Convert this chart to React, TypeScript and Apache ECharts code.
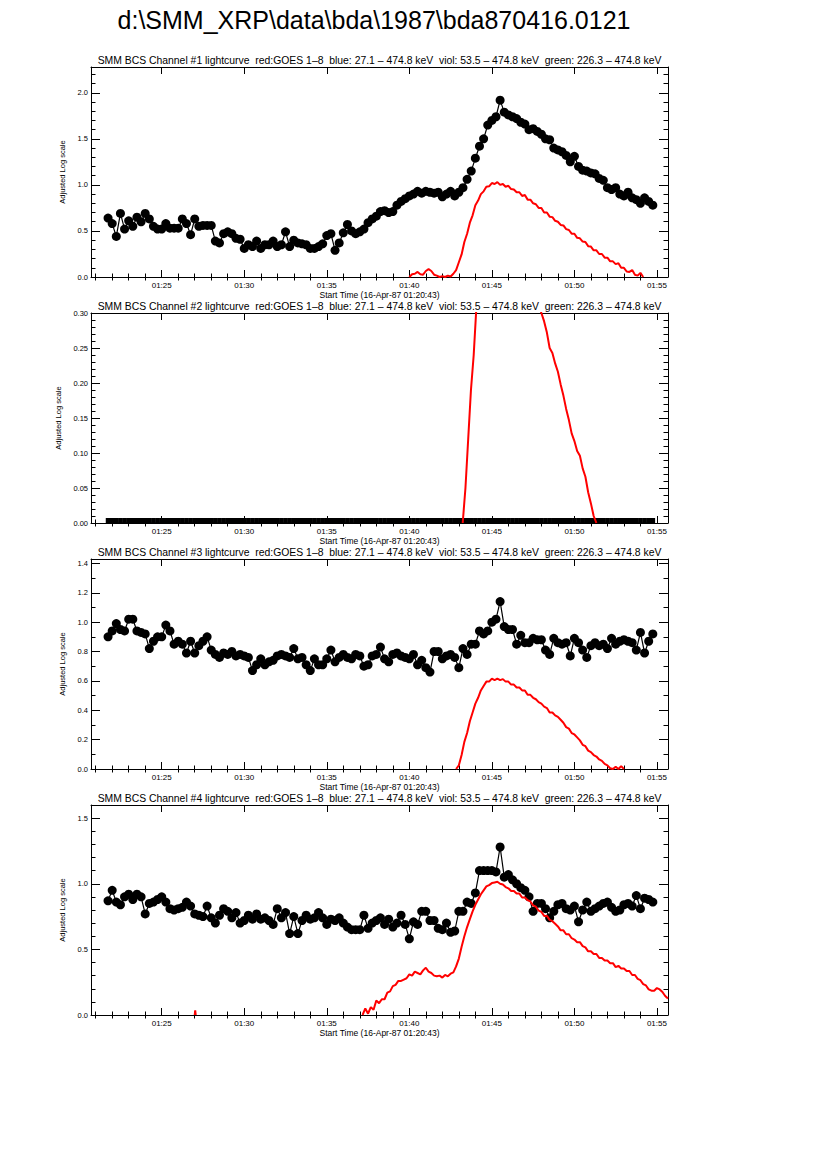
import React, { useEffect, useRef } from "react";
import * as echarts from "echarts";

const FONT = '"Liberation Sans", Arial, Helvetica, sans-serif';

// ---------- texts ----------
const MAIN_TITLE = "d:\\SMM_XRP\\data\\bda\\1987\\bda870416.0121";
const CHANNELS = ["1", "2", "3", "4"];
const TITLE_TAIL =
  "lightcurve  red:GOES 1–8  blue: 27.1 – 474.8 keV  viol: 53.5 – 474.8 keV  green: 226.3 – 474.8 keV";
const X_NAME = "Start Time (16-Apr-87 01:20:43)";
const Y_NAME = "Adjusted Log scale";

// ---------- x axis (minutes after 01:00) ----------
const X_MIN = 20 + 43 / 60;
const X_MAX = 55.67;
const X_MAJOR = [25, 30, 35, 40, 45, 50, 55];
const X_MINOR = [21, 22, 23, 24, 26, 27, 28, 29, 31, 32, 33, 34, 36, 37, 38, 39, 41, 42, 43, 44, 46, 47, 48, 49, 51, 52, 53, 54];

// ---------- y axes ----------
const Y_MAX = [2.28, 0.3, 1.43, 1.6];
const Y_MAJOR = [
  [0, 0.5, 1, 1.5, 2],
  [0, 0.05, 0.1, 0.15, 0.2, 0.25, 0.3],
  [0, 0.2, 0.4, 0.6, 0.8, 1, 1.2, 1.4],
  [0, 0.5, 1, 1.5],
];
const Y_MINOR = [
  [0.1, 0.2, 0.3, 0.4, 0.6, 0.7, 0.8, 0.9, 1.1, 1.2, 1.3, 1.4, 1.6, 1.7, 1.8, 1.9, 2.1, 2.2],
  [0.01, 0.02, 0.03, 0.04, 0.06, 0.07, 0.08, 0.09, 0.11, 0.12, 0.13, 0.14, 0.16, 0.17, 0.18, 0.19, 0.21, 0.22, 0.23, 0.24, 0.26, 0.27, 0.28, 0.29],
  [0.1, 0.3, 0.5, 0.7, 0.9, 1.1, 1.3],
  [0.1, 0.2, 0.3, 0.4, 0.6, 0.7, 0.8, 0.9, 1.1, 1.2, 1.3, 1.4],
];
const Y_DECIMALS = [1, 2, 1, 1];

// ---------- BCS (black) series: 15 s cadence from 01:21:45 ----------
const BLACK_START = 21.75;
const BLACK_STEP = 0.25;

const ch1Black = [
  0.64, 0.58, 0.44, 0.69, 0.52, 0.61, 0.55, 0.65, 0.6, 0.69,
  0.63, 0.55, 0.52, 0.52, 0.58, 0.53, 0.53, 0.53, 0.63, 0.58,
  0.46, 0.63, 0.55, 0.56, 0.56, 0.56, 0.39, 0.37, 0.47, 0.49,
  0.47, 0.42, 0.41, 0.31, 0.35, 0.33, 0.39, 0.31, 0.35, 0.35,
  0.39, 0.33, 0.35, 0.49, 0.33, 0.4, 0.37, 0.36, 0.35, 0.31,
  0.31, 0.33, 0.36, 0.45, 0.47, 0.29, 0.37, 0.48, 0.57,
  0.5, 0.47, 0.49, 0.52, 0.59, 0.63, 0.66, 0.71, 0.72, 0.7,
  0.71, 0.78, 0.82, 0.85, 0.88, 0.9, 0.93, 0.91, 0.93, 0.92,
  0.91, 0.92, 0.87, 0.9, 0.93, 0.88, 0.92, 0.97, 1.06, 1.15,
  1.29, 1.42, 1.5, 1.65, 1.7, 1.74, 1.92, 1.79, 1.76, 1.74,
  1.72, 1.68, 1.66, 1.6, 1.61, 1.58, 1.55, 1.5, 1.49, 1.4,
  1.38, 1.36, 1.32, 1.25, 1.31, 1.2, 1.16, 1.15, 1.13, 1.12,
  1.07, 1.05, 0.97, 0.95, 0.97, 0.9, 0.88, 0.92, 0.86, 0.84,
  0.8, 0.86, 0.82, 0.78,
];

const ch2Black = [
  0, 0, 0, 0, 0, 0, 0, 0, 0, 0, 0, 0, 0, 0, 0, 0, 0, 0, 0, 0,
  0, 0, 0, 0, 0, 0, 0, 0, 0, 0, 0, 0, 0, 0, 0, 0, 0, 0, 0, 0,
  0, 0, 0, 0, 0, 0, 0, 0, 0, 0, 0, 0, 0, 0, 0, 0, 0, 0, 0, 0,
  0, 0, 0, 0, 0, 0, 0, 0, 0, 0, 0, 0, 0, 0, 0, 0, 0, 0, 0, 0,
  0, 0, 0, 0, 0, 0, 0, 0, 0, 0, 0, 0, 0, 0, 0, 0, 0, 0, 0, 0,
  0, 0, 0, 0, 0, 0, 0, 0, 0, 0, 0, 0, 0, 0, 0, 0, 0, 0, 0, 0,
  0, 0, 0, 0, 0, 0, 0, 0, 0, 0, 0, 0, 0,
];

const ch3Black = [
  0.9, 0.94, 0.99, 0.95, 0.94, 1.02, 1.02, 0.94, 0.93, 0.92,
  0.82, 0.87, 0.9, 0.9, 0.98, 0.94, 0.85, 0.87, 0.85, 0.79,
  0.87, 0.79, 0.84, 0.87, 0.9, 0.81, 0.78, 0.76, 0.79, 0.78,
  0.8, 0.77, 0.78, 0.77, 0.76, 0.67, 0.71, 0.75, 0.71, 0.73,
  0.74, 0.77, 0.78, 0.77, 0.76, 0.82, 0.75, 0.76, 0.71, 0.67,
  0.75, 0.71, 0.71, 0.75, 0.81, 0.73, 0.76, 0.78, 0.76, 0.75,
  0.78, 0.77, 0.7, 0.71, 0.77, 0.78, 0.83, 0.75, 0.73, 0.78,
  0.79, 0.77, 0.76, 0.75, 0.78, 0.71, 0.74, 0.69, 0.66, 0.8,
  0.8, 0.75, 0.77, 0.78, 0.76, 0.69, 0.82, 0.78, 0.85, 0.85,
  0.94, 0.92, 0.94, 1.0, 1.02, 1.14, 0.97, 0.95, 0.95, 0.85,
  0.91, 0.86, 0.86, 0.89, 0.88, 0.88, 0.81, 0.78, 0.89, 0.86,
  0.85, 0.86, 0.77, 0.89, 0.86, 0.81, 0.76, 0.84, 0.86, 0.84,
  0.85, 0.82, 0.89, 0.85, 0.87, 0.88, 0.87, 0.86, 0.81, 0.93,
  0.79, 0.87, 0.92,
];

const ch4Black = [
  0.87, 0.95, 0.86, 0.84, 0.9, 0.92, 0.88, 0.92, 0.9, 0.77,
  0.85, 0.86, 0.88, 0.9, 0.86, 0.81, 0.8, 0.81, 0.82, 0.86,
  0.83, 0.77, 0.76, 0.75, 0.83, 0.74, 0.7, 0.76, 0.81, 0.79,
  0.74, 0.78, 0.7, 0.72, 0.76, 0.73, 0.77, 0.73, 0.74, 0.72,
  0.69, 0.81, 0.74, 0.78, 0.62, 0.75, 0.62, 0.72, 0.76, 0.73,
  0.74, 0.78, 0.74, 0.69, 0.73, 0.72, 0.74, 0.7, 0.67, 0.65,
  0.65, 0.65, 0.76, 0.66, 0.7, 0.72, 0.74, 0.69, 0.73, 0.67,
  0.7, 0.76, 0.69, 0.58, 0.71, 0.69, 0.79, 0.79, 0.72, 0.72,
  0.66, 0.65, 0.7, 0.63, 0.64, 0.79, 0.79, 0.86, 0.85, 0.93,
  1.1, 1.1, 1.1, 1.1, 1.09, 1.28, 1.05, 1.07, 1.03, 1.0,
  0.97, 0.95, 0.9, 0.79, 0.85, 0.85, 0.81, 0.74, 0.79, 0.84,
  0.85, 0.81, 0.8, 0.83, 0.71, 0.8, 0.86, 0.79, 0.81, 0.83,
  0.85, 0.86, 0.82, 0.79, 0.8, 0.84, 0.85, 0.83, 0.91, 0.81,
  0.89, 0.88, 0.86,
];

// ---------- GOES (red) series: 10 s cadence ----------
const RED_STEP = 1 / 6;

const ch1RedStart = 40.0;
const ch1Red = [
  0.0, 0.03, 0.035, 0.055, 0.03, 0.025, 0.065, 0.085, 0.065, 0.025,
  0.015, 0.0, 0.01, 0.0, 0.015, 0.005, 0.035, 0.075, 0.16, 0.245,
  0.38, 0.47, 0.59, 0.67, 0.78, 0.83, 0.9, 0.93, 0.98, 0.985,
  1.02, 1.01, 1.03, 1.0, 1.01, 0.98, 0.99, 0.955, 0.95, 0.92,
  0.92, 0.88, 0.89, 0.84, 0.84, 0.8, 0.79, 0.75, 0.75, 0.7,
  0.7, 0.655, 0.65, 0.61, 0.6, 0.565, 0.56, 0.52, 0.51, 0.47,
  0.47, 0.425, 0.42, 0.385, 0.38, 0.335, 0.33, 0.29, 0.29, 0.25,
  0.25, 0.21, 0.21, 0.17, 0.17, 0.14, 0.15, 0.1, 0.1, 0.06,
  0.055, 0.075, 0.025, 0.015, 0.045, 0.0,
];

const ch2RedRiseStart = 43 + 14 / 60;
const ch2RedRise = [0.0, 0.05, 0.12, 0.19, 0.24, 0.31];
const ch2RedFallStart = 47 + 50 / 60;
const ch2RedFall = [
  0.31, 0.3, 0.288, 0.272, 0.25, 0.243, 0.228, 0.216, 0.198, 0.182,
  0.163, 0.147, 0.128, 0.117, 0.103, 0.096, 0.078, 0.066, 0.044, 0.028,
  0.01, 0.0,
];

const ch3RedStart = 42 + 50 / 60;
const ch3Red = [
  0.0, 0.025, 0.095, 0.185, 0.245, 0.325, 0.385, 0.445, 0.485, 0.535,
  0.565, 0.595, 0.595, 0.615, 0.605, 0.615, 0.605, 0.612, 0.595, 0.595,
  0.575, 0.575, 0.555, 0.555, 0.535, 0.535, 0.505, 0.505, 0.485, 0.475,
  0.455, 0.445, 0.425, 0.415, 0.385, 0.385, 0.365, 0.355, 0.335, 0.315,
  0.285, 0.275, 0.245, 0.235, 0.215, 0.195, 0.165, 0.155, 0.125, 0.115,
  0.095, 0.085, 0.065, 0.055, 0.035, 0.025, 0.005, 0.0, 0.015, 0.0,
  0.02, 0.0,
];

const ch4BlipTimes = [27.0, 27.03, 27.06];
const ch4Blip = [0.0, 0.035, 0.0];
const ch4RedStart = 37 + 10 / 60;
const ch4Red = [
  0.0, 0.05, 0.01, 0.06, 0.04, 0.11, 0.09, 0.12, 0.12, 0.17,
  0.18, 0.22, 0.23, 0.26, 0.26, 0.27, 0.28, 0.31, 0.3, 0.33,
  0.32, 0.31, 0.34, 0.36, 0.33, 0.32, 0.3, 0.295, 0.3, 0.285,
  0.305, 0.295, 0.315, 0.325, 0.37, 0.43, 0.52, 0.6, 0.67, 0.73,
  0.79, 0.84, 0.88, 0.92, 0.95, 0.98, 0.99, 1.005, 1.01, 1.015,
  1.0, 0.995, 0.975, 0.965, 0.945, 0.945, 0.925, 0.925, 0.895, 0.895,
  0.875, 0.865, 0.835, 0.825, 0.795, 0.785, 0.755, 0.755, 0.725, 0.715,
  0.695, 0.675, 0.645, 0.645, 0.615, 0.615, 0.585, 0.575, 0.555, 0.555,
  0.525, 0.515, 0.485, 0.485, 0.465, 0.465, 0.435, 0.435, 0.415, 0.415,
  0.395, 0.395, 0.365, 0.375, 0.355, 0.355, 0.335, 0.335, 0.305, 0.305,
  0.275, 0.265, 0.235, 0.225, 0.195, 0.185, 0.185, 0.205, 0.195, 0.175,
  0.145, 0.125,
];

// ---------- layout ----------
const W = 826;
const H = 1169;
const GRID_LEFT = 91;
const GRID_W = 577;
const GRID_H = 210;
const GRID_TOPS = [67, 313, 559, 805];

const BLACK = "#000000";
const RED = "#ff0000";

function seq(start: number, step: number, vals: number[]) {
  return vals.map((v, i) => [start + i * step, v]);
}
function pairs(ts: number[], vals: number[]) {
  return vals.map((v, i) => [ts[i], v]);
}
function fmtTime(v: number) {
  const m = Math.round(v);
  return "01:" + (m < 10 ? "0" + m : String(m));
}

const lineStyle = { color: BLACK, width: 1 };

function makeXAxes(g: number) {
  const base: any = {
    type: "value",
    gridIndex: g,
    min: X_MIN,
    max: X_MAX,
    splitLine: { show: false },
    silent: true,
  };
  return [
    {
      ...base,
      position: "bottom",
      axisLine: { show: true, onZero: false, lineStyle },
      axisTick: { show: true, inside: true, length: 7, customValues: X_MAJOR, lineStyle },
      axisLabel: {
        show: true,
        customValues: X_MAJOR,
        formatter: fmtTime,
        fontSize: 8,
        color: BLACK,
        margin: 4,
        fontFamily: FONT,
      },
      name: X_NAME,
      nameLocation: "middle",
      nameGap: 13,
      nameTextStyle: { fontSize: 8.5, color: BLACK, fontFamily: FONT },
    },
    {
      ...base,
      position: "bottom",
      axisLine: { show: false },
      axisTick: { show: true, inside: true, length: 3.5, customValues: X_MINOR, lineStyle },
      axisLabel: { show: false },
    },
    {
      ...base,
      position: "top",
      axisLine: { show: true, onZero: false, lineStyle },
      axisTick: { show: true, inside: true, length: 7, customValues: X_MAJOR, lineStyle },
      axisLabel: { show: false },
    },
    {
      ...base,
      position: "top",
      axisLine: { show: false },
      axisTick: { show: true, inside: true, length: 3.5, customValues: X_MINOR, lineStyle },
      axisLabel: { show: false },
    },
  ];
}

function makeYAxes(g: number) {
  const base: any = {
    type: "value",
    gridIndex: g,
    min: 0,
    max: Y_MAX[g],
    splitLine: { show: false },
    silent: true,
  };
  const dec = Y_DECIMALS[g];
  return [
    {
      ...base,
      position: "left",
      axisLine: { show: true, onZero: false, lineStyle },
      axisTick: { show: true, inside: true, length: 9, customValues: Y_MAJOR[g], lineStyle },
      axisLabel: {
        show: true,
        customValues: Y_MAJOR[g],
        formatter: (v: number) => v.toFixed(dec),
        fontSize: 7.5,
        color: BLACK,
        margin: 3,
        fontFamily: FONT,
      },
      name: Y_NAME,
      nameLocation: "middle",
      nameRotate: 90,
      nameGap: 18,
      nameTextStyle: { fontSize: 7.5, color: BLACK, fontFamily: FONT },
    },
    {
      ...base,
      position: "left",
      axisLine: { show: false },
      axisTick: { show: true, inside: true, length: 4.5, customValues: Y_MINOR[g], lineStyle },
      axisLabel: { show: false },
    },
    {
      ...base,
      position: "right",
      axisLine: { show: true, onZero: false, lineStyle },
      axisTick: { show: true, inside: true, length: 9, customValues: Y_MAJOR[g], lineStyle },
      axisLabel: { show: false },
    },
    {
      ...base,
      position: "right",
      axisLine: { show: false },
      axisTick: { show: true, inside: true, length: 4.5, customValues: Y_MINOR[g], lineStyle },
      axisLabel: { show: false },
    },
  ];
}

function blackSeries(g: number, vals: number[], flat = false) {
  const s: any = {
    type: "line",
    xAxisIndex: g * 4,
    yAxisIndex: g * 4,
    data: seq(BLACK_START, BLACK_STEP, vals),
    symbol: flat ? "rect" : "circle",
    symbolSize: flat ? [4.6, 5] : 9,
    showSymbol: true,
    lineStyle: { color: BLACK, width: 1.2 },
    itemStyle: { color: BLACK },
    z: 2,
    silent: true,
    clip: true,
  };
  if (flat) s.symbolOffset = [0, -2.5];
  return s;
}

function redSeries(g: number, data: number[][]) {
  return {
    type: "line",
    xAxisIndex: g * 4,
    yAxisIndex: g * 4,
    data,
    symbol: "none",
    showSymbol: false,
    lineStyle: { color: RED, width: 2 },
    z: 3,
    silent: true,
    clip: true,
  };
}

export default function App() {
  const ref = useRef<HTMLDivElement>(null);

  useEffect(() => {
    if (!ref.current) return;
    const chart = echarts.init(ref.current, undefined, { renderer: "svg", width: W, height: H });

    const graphic: any[] = [
      {
        type: "text",
        x: 374,
        y: 20,
        style: {
          text: MAIN_TITLE,
          font: `25px ${FONT}`,
          fill: BLACK,
          textAlign: "center",
          textVerticalAlign: "middle",
          align: "center",
          verticalAlign: "middle",
        },
        silent: true,
      },
    ];
    GRID_TOPS.forEach((top, g) => {
      graphic.push({
        type: "text",
        x: GRID_LEFT + GRID_W / 2,
        y: top - 6.5,
        style: {
          text: `SMM BCS Channel #${CHANNELS[g]} ${TITLE_TAIL}`,
          font: `10.4px ${FONT}`,
          fill: BLACK,
          textAlign: "center",
          textVerticalAlign: "middle",
          align: "center",
          verticalAlign: "middle",
        },
        silent: true,
      });
    });

    const xAxis: any[] = [];
    const yAxis: any[] = [];
    for (let g = 0; g < 4; g++) {
      xAxis.push(...makeXAxes(g));
      yAxis.push(...makeYAxes(g));
    }

    const series: any[] = [
      blackSeries(0, ch1Black),
      redSeries(0, seq(ch1RedStart, RED_STEP, ch1Red)),
      blackSeries(1, ch2Black, true),
      redSeries(1, seq(ch2RedRiseStart, RED_STEP, ch2RedRise)),
      redSeries(1, seq(ch2RedFallStart, RED_STEP, ch2RedFall)),
      blackSeries(2, ch3Black),
      redSeries(2, seq(ch3RedStart, RED_STEP, ch3Red)),
      blackSeries(3, ch4Black),
      redSeries(3, pairs(ch4BlipTimes, ch4Blip)),
      redSeries(3, seq(ch4RedStart, RED_STEP, ch4Red)),
    ];

    chart.setOption({
      animation: false,
      backgroundColor: "#ffffff",
      textStyle: { fontFamily: FONT },
      graphic,
      grid: GRID_TOPS.map((top) => ({
        left: GRID_LEFT,
        top,
        width: GRID_W,
        height: GRID_H,
        show: false,
        containLabel: false,
      })),
      xAxis,
      yAxis,
      series,
    });

    return () => {
      chart.dispose();
    };
  }, []);

  return (
    <div
      ref={ref}
      style={{ position: "absolute", left: 0, top: 0, width: W, height: H, background: "#fff" }}
    />
  );
}
